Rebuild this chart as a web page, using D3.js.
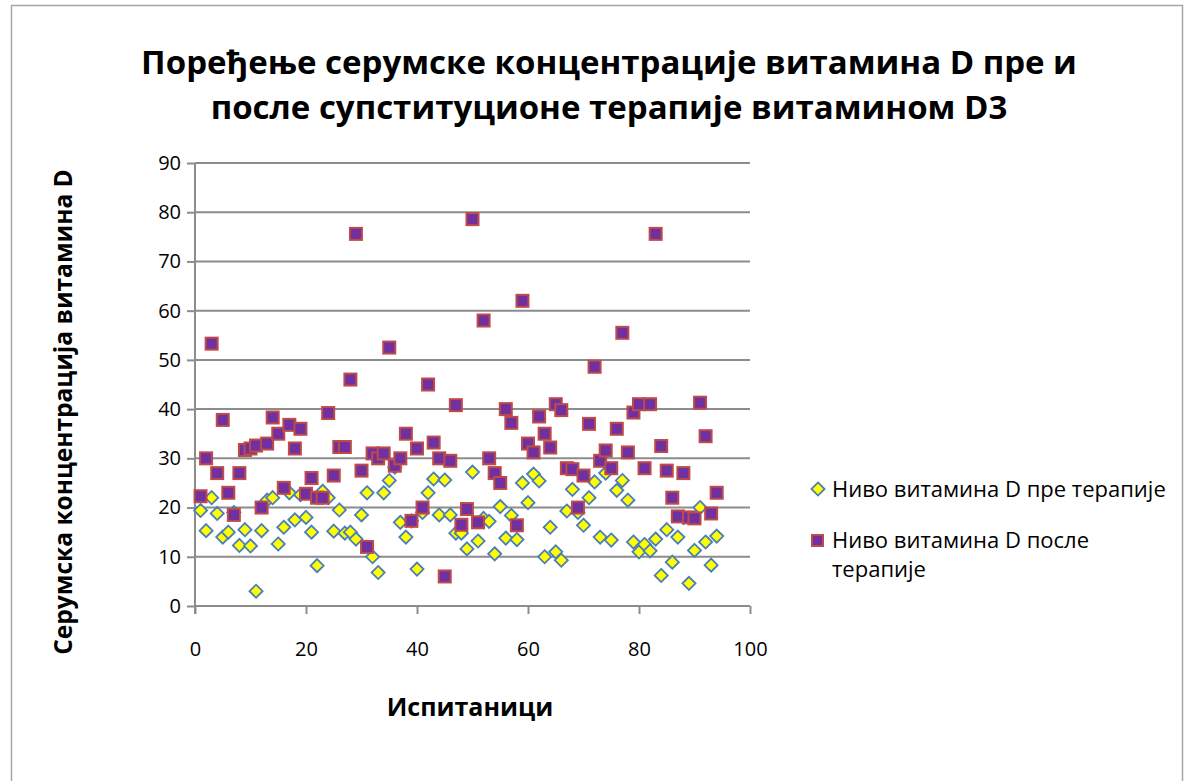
<!DOCTYPE html>
<html>
<head>
<meta charset="utf-8">
<script src="https://cdn.jsdelivr.net/npm/d3@7"></script>
<style>
  body { margin: 0; background: #fff; }
  svg { display: block; font-family: "Open Sans", "Noto Sans", sans-serif; }
</style>
</head>
<body>
<svg id="chart" width="1193" height="781"></svg>
<script>
// values, one per participant (x = 1..94)
const before = [19.4, 15.3, 22, 18.8, 14, 15, 19, 12.3, 15.5, 12.2,
  3, 15.3, 21.5, 22, 12.6, 16, 23, 17.5, 22.6, 18,
  15, 8.2, 23.3, 22, 15.2, 19.5, 14.8, 15, 13.6, 18.5,
  23, 10, 6.8, 23, 25.5, 28.2, 17, 14, 17.3, 7.5,
  19, 23, 25.8, 18.5, 25.6, 18.5, 14.8, 14.8, 11.6, 27.2,
  13.2, 17.8, 17.2, 10.6, 20.2, 13.8, 18.4, 13.5, 25, 21,
  26.8, 25.4, 10, 16, 11, 9.3, 19.3, 23.7, 19, 16.4,
  22, 25.2, 14, 27, 13.4, 23.5, 25.5, 21.5, 13, 11,
  12.5, 11.2, 13.6, 6.2, 15.5, 8.9, 14, 18, 4.6, 11.3,
  20, 13, 8.3, 14.2];
const after = [22.3, 30, 53.3, 27, 37.8, 23, 18.5, 27, 31.7, 32,
  32.6, 20, 33, 38.3, 35, 24, 36.8, 32, 36, 22.8,
  26, 22, 22, 39.2, 26.5, 32.3, 32.3, 46, 75.6, 27.5,
  12, 31, 30, 31, 52.5, 28.5, 30, 35, 17.3, 32,
  20, 45, 33.2, 30, 6, 29.5, 40.8, 16.5, 19.7, 78.6,
  17, 58, 30, 27, 25, 40, 37.2, 16.4, 62, 33,
  31.2, 38.5, 35, 32.2, 41, 39.8, 28, 27.8, 20, 26.5,
  37, 48.6, 29.5, 31.6, 28, 36, 55.5, 31.2, 39.3, 41,
  28, 41, 75.6, 32.5, 27.5, 22, 18.2, 27, 18, 17.8,
  41.3, 34.5, 18.8, 23];
const xTicks = [0, 20, 40, 60, 80, 100];
const yTicks = [0, 10, 20, 30, 40, 50, 60, 70, 80, 90];
const titleLines = ["Поређење серумске концентрације витамина D пре и",
  "после супституционе терапије витамином D3"];
const seriesNames = ["Ниво витамина D пре терапије", "Ниво витамина D после терапије"];

const svg = d3.select("#chart");
const plot = {left: 195, right: 750, top: 163, bottom: 606};

const x = d3.scaleLinear().domain([0, 100]).range([plot.left, plot.right]);
const y = d3.scaleLinear().domain([0, 90]).range([plot.bottom, plot.top]);

// outer frame
svg.append("rect")
    .attr("x", 11.5).attr("y", 5.5)
    .attr("width", 1171).attr("height", 800)
    .attr("fill", "none").attr("stroke", "#a6a6a6").attr("stroke-width", 1.5);

// title
svg.append("g")
  .selectAll("text")
  .data(titleLines)
  .join("text")
    .attr("x", 609)
    .attr("y", (d, i) => 74 + i * 45)
    .attr("text-anchor", "middle")
    .attr("font-weight", 700)
    .style("font-size", "33px")
    .text(d => d);

// gridlines
svg.append("g")
    .attr("stroke", "#8c8c8c")
    .attr("stroke-width", 2)
  .selectAll("line")
  .data(yTicks.slice(1))
  .join("line")
    .attr("x1", plot.left).attr("x2", plot.right)
    .attr("y1", d => y(d)).attr("y2", d => y(d));

// axes
const xAxis = svg.append("g")
    .attr("transform", `translate(0,${plot.bottom})`)
    .call(d3.axisBottom(x).tickValues(xTicks).tickSize(8).tickPadding(28).tickSizeOuter(0));
const yAxis = svg.append("g")
    .attr("transform", `translate(${plot.left},0)`)
    .call(d3.axisLeft(y).tickValues(yTicks).tickSize(8).tickPadding(6).tickSizeOuter(0));

[xAxis, yAxis].forEach(a => {
  a.select(".domain").attr("stroke", "#8c8c8c").attr("stroke-width", 2);
  a.selectAll(".tick line").attr("stroke", "#8c8c8c").attr("stroke-width", 2);
  a.selectAll(".tick text")
    .attr("fill", "#000")
    .style("font-size", "20px")
    .style("font-family", "\"Open Sans\", sans-serif");
});
xAxis.select(".domain").attr("d", `M${plot.left},0H${plot.right}`);
yAxis.select(".domain").attr("d", `M0,${plot.bottom + 8}V${plot.top}`);

// axis titles
svg.append("text")
    .attr("x", 470).attr("y", 716)
    .attr("text-anchor", "middle")
    .attr("font-weight", 700)
    .style("font-size", "25px")
    .text("Испитаници");

svg.append("text")
    .attr("transform", "translate(72,412) rotate(-90)")
    .attr("text-anchor", "middle")
    .attr("font-weight", 700)
    .style("font-size", "24.5px")
    .text("Серумска концентрација витамина D");

const diamond = d3.symbol().type(d3.symbolDiamond2).size(110);

// series: before (diamonds)
svg.append("g")
  .selectAll("path")
  .data(before)
  .join("path")
    .attr("d", diamond)
    .attr("transform", (d, i) => `translate(${x(i + 1)},${y(d)})`)
    .attr("fill", "#ffff00")
    .attr("stroke", "#4a7ebb")
    .attr("stroke-width", 1.8);

// series: after (squares)
svg.append("g")
  .selectAll("rect")
  .data(after)
  .join("rect")
    .attr("x", (d, i) => x(i + 1) - 6)
    .attr("y", d => y(d) - 6)
    .attr("width", 12).attr("height", 12)
    .attr("fill", "#7030a0")
    .attr("stroke", "#be4b48")
    .attr("stroke-width", 2);

// legend
const legend = svg.append("g").style("font-size", "22px");
legend.append("path")
    .attr("d", diamond)
    .attr("transform", "translate(818,489)")
    .attr("fill", "#ffff00").attr("stroke", "#4a7ebb").attr("stroke-width", 1.8);
legend.append("text").attr("x", 832).attr("y", 497).text(seriesNames[0]);
legend.append("rect")
    .attr("x", 812).attr("y", 535).attr("width", 11).attr("height", 11)
    .attr("fill", "#7030a0").attr("stroke", "#be4b48").attr("stroke-width", 2);
legend.append("text").attr("x", 832).attr("y", 548).text("Ниво витамина D после");
legend.append("text").attr("x", 832).attr("y", 577).text("терапије");
</script>
</body>
</html>
